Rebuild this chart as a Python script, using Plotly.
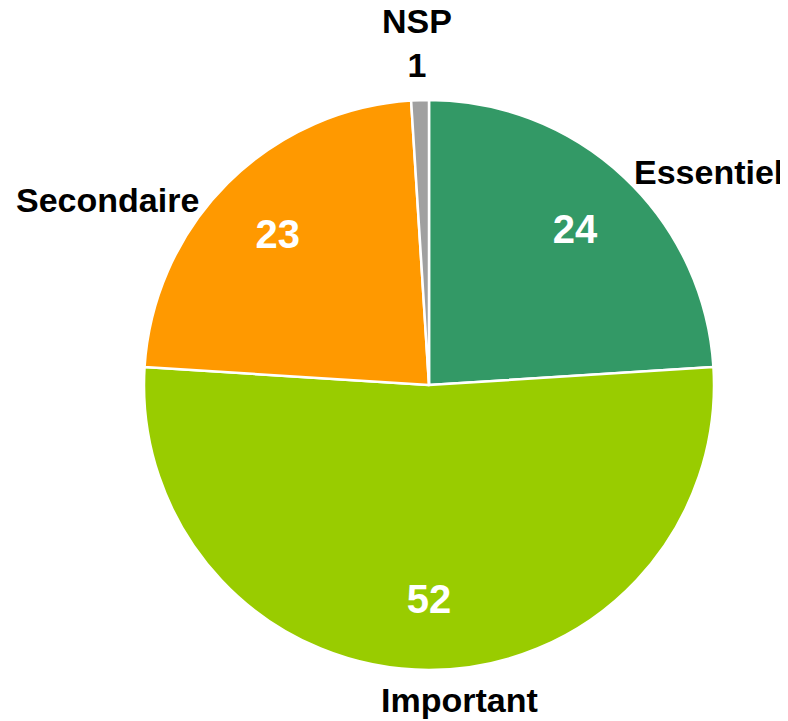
import math
import plotly.graph_objects as go

labels = ["Essentiel", "Important", "Secondaire", "NSP"]
values = [24, 52, 23, 1]
colors = ["#339966", "#99CC00", "#FF9900", "#A0A0A0"]

# layout of the plot area (pixels)
W, H = 780, 713
ML, MR, MT, MB = 62, 0, 92, 51
PW, PH = W - ML - MR, H - MT - MB
R = min(PW, PH) / 2

# small hand nudges (px) for the outside labels, like Excel's best fit
nudge = {"Essentiel": (0, -4), "Important": (30, 3), "Secondaire": (-18, -25), "NSP": (-3, 2)}

fig = go.Figure()

# coloured slices
fig.add_trace(go.Pie(
    labels=labels,
    values=values,
    sort=False,
    direction="clockwise",
    marker=dict(colors=colors, line=dict(color="white", width=2.5)),
    textinfo="none",
    showlegend=False,
    hoverinfo="skip",
))

# transparent ring carrying the values inside (hole pushes the text outward)
fig.add_trace(go.Pie(
    labels=labels,
    values=values,
    sort=False,
    direction="clockwise",
    hole=0.5,
    marker=dict(colors=["rgba(0,0,0,0)"] * 4, line=dict(width=0)),
    texttemplate=["%{value}", "%{value}", "%{value}", ""],
    textposition="inside",
    insidetextorientation="horizontal",
    insidetextfont=dict(family="Liberation Sans", size=40, color="white", weight="bold"),
    showlegend=False,
    hoverinfo="skip",
))

# category names outside, placed at each slice's mid angle
total = sum(values)
start = 0.0
for lab, val in zip(labels, values):
    mid = math.radians((start + val / 2) / total * 360)
    start += val
    s, c = math.sin(mid), math.cos(mid)
    dx, dy = nudge[lab]
    px = (R + 12) * s + dx
    py = (R + 12) * c + dy
    if s > 0.2:
        xa = "left"
    elif s < -0.2:
        xa = "right"
    else:
        xa = "center"
    if c > 0.8:
        ya = "bottom"
    elif c < -0.8:
        ya = "top"
    else:
        ya = "middle"
    text = f"{lab}<br>{val}" if lab == "NSP" else lab
    fig.add_annotation(
        x=0.5 + px / PW, y=0.5 + py / PH,
        xref="paper", yref="paper",
        text=text, showarrow=False,
        xanchor=xa, yanchor=ya,
        font=dict(family="Liberation Sans", size=34, color="black", weight="bold"),
    )

fig.update_layout(
    width=W,
    height=H,
    margin=dict(t=MT, b=MB, l=ML, r=MR),
    paper_bgcolor="white",
    plot_bgcolor="white",
)

fig.write_html("out.html")
